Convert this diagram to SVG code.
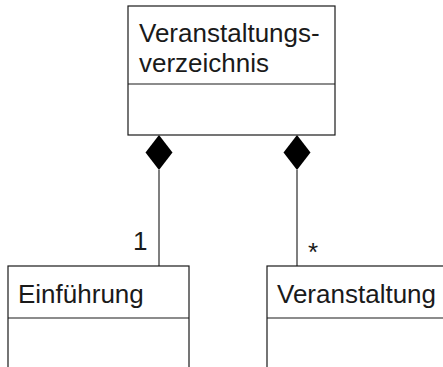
<svg xmlns="http://www.w3.org/2000/svg" width="443" height="367" viewBox="0 0 443 367">
<style>
.box{fill:#fff;stroke:#1a1a1a;stroke-width:1.2}
.div{stroke:#1a1a1a;stroke-width:1.2}
.t{font-family:"Liberation Sans",Arial,sans-serif;font-size:26px;fill:#1a1a1a}
.con{stroke:#555;stroke-width:1.5;fill:none}
.dia{fill:#000}
</style>
<rect width="443" height="367" fill="#fff"/>
<g id="connectors">
<line class="con" x1="159" y1="170" x2="159" y2="266"/>
<path class="dia" d="M159,135 L172.5,152.5 L159,170 L145.5,152.5 Z"/>
<line class="con" x1="297" y1="170" x2="297" y2="266"/>
<path class="dia" d="M297,135 L310.5,152.5 L297,170 L283.5,152.5 Z"/>
<text class="t" x="133" y="250">1</text>
<text class="t" x="308" y="261">*</text>
</g>
<g id="verzeichnis">
<rect class="box" x="128" y="6" width="207" height="129"/>
<line class="div" x1="128" y1="84" x2="335" y2="84"/>
<text class="t" x="139" y="42">Veranstaltungs-</text>
<text class="t" x="139" y="72">verzeichnis</text>
</g>
<g id="einfuehrung">
<rect class="box" x="8" y="266" width="181" height="120"/>
<line class="div" x1="8" y1="318" x2="189" y2="318"/>
<text class="t" x="18" y="303">Einführung</text>
</g>
<g id="veranstaltung">
<rect class="box" x="267" y="266" width="200" height="120"/>
<line class="div" x1="267" y1="318" x2="467" y2="318"/>
<text class="t" x="277" y="303">Veranstaltung</text>
</g>
</svg>
